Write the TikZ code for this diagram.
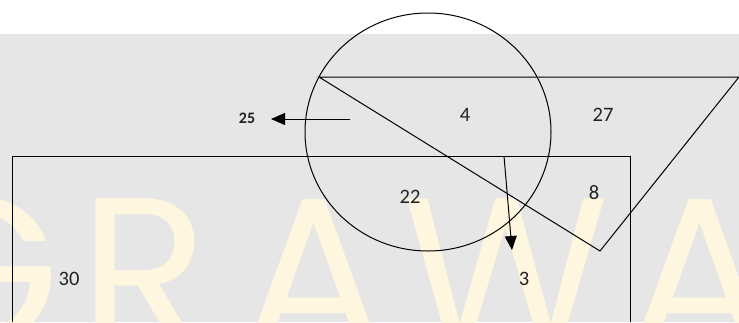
\documentclass[tikz,border=0pt]{standalone}
\usepackage{fontspec}
\setmainfont{Carlito}
\newfontfamily\markfont{Poppins}
\usepackage{tikz}
\usetikzlibrary{arrows.meta,positioning}
\definecolor{figback}{RGB}{230,230,230}
\definecolor{figmark}{RGB}{255,246,224}
\definecolor{figtext}{RGB}{34,34,34}
\tikzset{
  outline/.style={draw=black, line width=1pt},
  line/.style={-{Triangle[length=14pt, width=12pt]}, draw=black, line width=1pt},
  regionlabel/.style={font=\fontsize{20.5}{22}\selectfont, text=figtext, inner sep=0pt},
  smalllabel/.style={font=\bfseries\fontsize{16}{18}\selectfont, text=figtext, inner sep=0pt},
  marklabel/.style={font=\markfont\fontsize{212}{215}\selectfont, text=figmark, inner sep=0pt, anchor=base}
}

\begin{document}
\begin{tikzpicture}[x=1pt,y=-1pt]
  \clip (0,0) rectangle (739,322);
  \fill[white] (0,0) rectangle (739,322);
  \fill[figback] (0,34) rectangle (739,322);

  % watermark
  \node[marklabel] (markG) at (-22,346) {G};
  \node[marklabel] (markR) at (144,346) {R};
  \node[marklabel] (markA) at (314,346) {A};
  \node[marklabel] (markW) at (506,346) {W};
  \node[marklabel] (markB) at (700,346) {A};

  % sets
  \draw[outline] (12,322) |- (630,156) -- (630,322);
  \draw[outline] (319,77) -- (739,77) -- (600,251) -- cycle;
  \draw[outline] (428,132) ellipse [x radius=123, y radius=119];

  \node[smalllabel] (n25) at (247,118) {25};
  \node[regionlabel] (n4) at (465,115) {4};
  \node[regionlabel] (n27) at (603,115) {27};
  \node[regionlabel] (n22) at (410,197) {22};
  \node[regionlabel] (n8) at (594,193) {8};
  \node[regionlabel] (n3) at (524,279) {3};
  \node[regionlabel] (n30) at (69,279) {30};

  \coordinate (leftTail) at (350,119);
  \coordinate (leftTip) at (271,119);
  \coordinate (downTail) at (504,156);
  \coordinate (downTip) at (512,250);
  \draw[line] (leftTail) -- (leftTip);
  \draw[line] (downTail) -- (downTip);
\end{tikzpicture}
\end{document}
